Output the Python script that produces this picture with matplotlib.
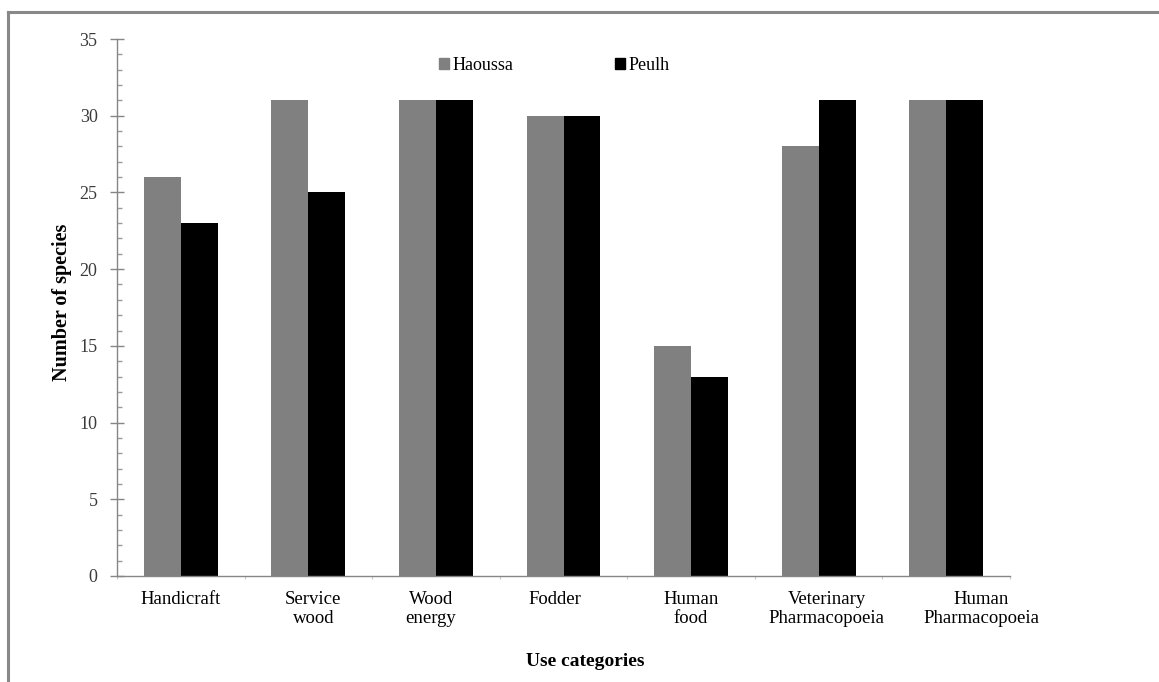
import matplotlib
matplotlib.use("Agg")
import matplotlib.pyplot as plt
from matplotlib.patches import Patch
from matplotlib.lines import Line2D
from matplotlib.ticker import MultipleLocator
import matplotlib.transforms as mtransforms
import numpy as np

categories = ["Handicraft", "Service\nwood", "Wood\nenergy", "Fodder",
              "Human\nfood", "Veterinary\nPharmacopoeia", "Human\nPharmacopoeia"]
haoussa = [26, 31, 31, 30, 15, 28, 31]
peulh = [23, 25, 31, 30, 13, 31, 31]
series_names = ["Haoussa", "Peulh"]

# small horizontal nudges (px) for the category labels, as in the original
label_nudge_px = [0, 5, -5, -9, 0, 8, 35]

plt.rcParams['font.family'] = ['Liberation Serif', 'DejaVu Serif']

fig = plt.figure(figsize=(11.59, 6.82), dpi=100)
ax = fig.add_axes([117 / 1159, 1 - 576 / 682, 893 / 1159, 537 / 682])

x = np.arange(len(categories)) + 0.5
w = 0.29
ax.bar(x - w / 2, haoussa, w, color="#808080", label=series_names[0])
ax.bar(x + w / 2, peulh, w, color="#000000", label=series_names[1])

ax.set_xlim(0, len(categories))
ax.set_ylim(0, 35)
ax.yaxis.set_major_locator(MultipleLocator(5))
ax.yaxis.set_minor_locator(MultipleLocator(1))
ax.set_xticks(np.arange(len(categories) + 1))
ax.set_xticklabels([])
ax.tick_params(axis="x", direction="out", length=2.5, width=0.8, color="#c8c8c8")
ax.tick_params(axis="y", which="major", direction="inout", length=10, width=1,
               color="#868686", labelsize=13, labelcolor="#3a3a3a", pad=9)
ax.tick_params(axis="y", which="minor", direction="in", length=3.5, width=1,
               color="#9a9a9a")

for s in ["top", "right"]:
    ax.spines[s].set_visible(False)
for s in ["left", "bottom"]:
    ax.spines[s].set_color("#868686")
    ax.spines[s].set_linewidth(1)

# category labels
for xi, lab, dx in zip(x, categories, label_nudge_px):
    tr = ax.get_xaxis_transform() + mtransforms.ScaledTranslation(dx / 100, 0, fig.dpi_scale_trans)
    ax.text(xi, -0.028, lab, transform=tr, ha="center", va="top",
            fontsize=13.5, linespacing=1.15)

ax.set_ylabel("Number of species", fontsize=14.5, fontweight="bold")
ax.yaxis.set_label_coords(-0.05, 0.51)
fig.text(585 / 1159, 1 - 662 / 682, "Use categories", ha="center", va="center",
         fontsize=14, fontweight="bold")

handles = [Patch(color="#808080"), Patch(color="#000000")]
fig.legend(handles, series_names, loc="center", ncol=2, frameon=False,
           bbox_to_anchor=(0.4784, 1 - 65 / 682), fontsize=13,
           handlelength=0.55, handleheight=0.55, handletextpad=0.2,
           columnspacing=5.6)

# outer frame of the original picture
fig.add_artist(Line2D([8 / 1159, 8 / 1159], [0, 1 - 12 / 682], transform=fig.transFigure,
                      color="#888888", lw=2.2))
fig.add_artist(Line2D([8 / 1159, 1], [1 - 12 / 682, 1 - 12 / 682], transform=fig.transFigure,
                      color="#888888", lw=2.2))

fig.savefig("out.png", dpi=100)
